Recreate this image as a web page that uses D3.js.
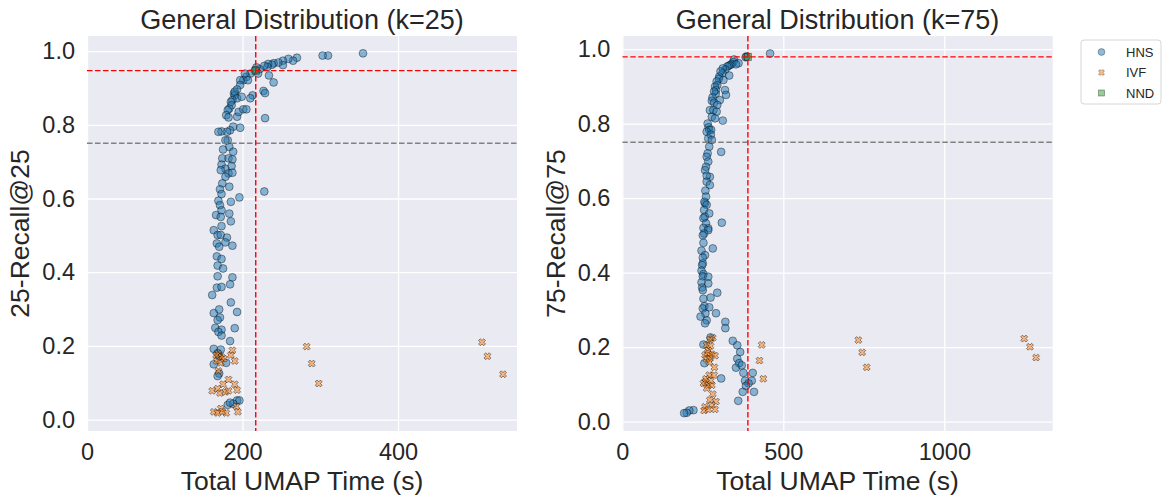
<!DOCTYPE html>
<html>
<head>
<meta charset="utf-8">
<script src="https://cdn.jsdelivr.net/npm/d3@7"></script>
<style>
html,body{margin:0;padding:0;background:#fff;}
svg{display:block;font-family:"Liberation Sans",Arial,Helvetica,sans-serif;}
</style>
</head>
<body>
<svg id="chart" width="1171" height="502"></svg>
<script>
// ---------- data ----------
const seriesNames = ["HNS", "IVF", "NND"];
const panelTitles = ["General Distribution (k=25)", "General Distribution (k=75)"];
const yLabels = ["25-Recall@25", "75-Recall@75"];
const xLabel = "Total UMAP Time (s)";
const xTicksLeft = [0, 200, 400];
const xTicksRight = [0, 500, 1000];
const yTicks = [0.0, 0.2, 0.4, 0.6, 0.8, 1.0];
const recallThreshold = 0.75;

// [time, recall]
const hns25 = [[355,0.994],[310,0.988],[303,0.988],[270,0.982],[265,0.974],[259,0.979],[252,0.974],[252,0.962],[246,0.969],[240,0.967],[238,0.963],[233,0.965],[232,0.957],[228,0.960],[222,0.951],[218,0.956],[220,0.939],[216,0.948],[210,0.939],[205,0.930],[203,0.939],[201,0.921],[207,0.921],[197,0.921],[197,0.908],[234,0.934],[240,0.915],[227,0.892],[229,0.886],[193,0.896],[189,0.885],[190,0.880],[190,0.890],[193,0.872],[199,0.876],[213,0.880],[210,0.872],[187,0.867],[185,0.862],[186,0.853],[183,0.844],[181,0.840],[179,0.826],[182,0.820],[193,0.822],[195,0.835],[201,0.842],[205,0.842],[229,0.818],[188,0.795],[184,0.785],[180,0.781],[173,0.782],[169,0.781],[197,0.792],[181,0.758],[178,0.758],[183,0.740],[175,0.733],[188,0.727],[174,0.709],[182,0.709],[187,0.706],[173,0.692],[178,0.681],[186,0.688],[172,0.677],[182,0.668],[187,0.670],[178,0.659],[183,0.632],[174,0.641],[171,0.625],[228,0.619],[173,0.612],[196,0.603],[169,0.594],[185,0.591],[171,0.582],[166,0.555],[173,0.568],[183,0.559],[172,0.550],[185,0.538],[173,0.525],[163,0.514],[168,0.501],[172,0.501],[180,0.494],[167,0.478],[170,0.469],[178,0.481],[187,0.472],[167,0.443],[173,0.436],[168,0.418],[175,0.410],[168,0.389],[187,0.386],[167,0.358],[173,0.360],[184,0.367],[161,0.338],[185,0.318],[170,0.299],[163,0.289],[171,0.277],[193,0.292],[168,0.270],[165,0.249],[173,0.244],[190,0.248],[169,0.238],[173,0.228],[184,0.213],[163,0.192],[172,0.190],[168,0.180],[170,0.172],[179,0.154],[163,0.150],[170,0.125],[168,0.118],[181,0.040],[193,0.052],[196,0.052],[188,0.043],[184,0.046]];
const ivf25 = [[187,0.188],[169,0.179],[173,0.170],[185,0.175],[190,0.159],[167,0.159],[172,0.154],[169,0.132],[182,0.109],[175,0.096],[190,0.096],[161,0.078],[168,0.084],[171,0.072],[178,0.075],[182,0.078],[193,0.080],[172,0.030],[163,0.021],[168,0.018],[179,0.018],[194,0.021],[192,0.036],[174,0.022],[166,0.175],[176,0.165],[282.5,0.198],[289,0.152],[298,0.098],[508,0.210],[515,0.172],[535,0.123]];
const nnd25 = [[217,0.947]];

const hns75 = [[459,0.988],[386,0.980],[383,0.978],[347,0.972],[345,0.965],[340,0.960],[361,0.962],[353,0.959],[335,0.957],[330,0.955],[326,0.953],[320,0.945],[312,0.948],[311,0.935],[305,0.940],[301,0.926],[300,0.920],[332,0.929],[314,0.917],[293,0.913],[295,0.903],[288,0.899],[291,0.890],[290,0.880],[285,0.886],[280,0.870],[319,0.890],[322,0.877],[303,0.863],[278,0.861],[285,0.856],[295,0.850],[272,0.836],[283,0.836],[293,0.832],[312,0.808],[278,0.818],[288,0.814],[265,0.800],[268,0.790],[270,0.783],[276,0.783],[262,0.778],[275,0.770],[267,0.760],[278,0.756],[270,0.738],[307,0.724],[265,0.720],[262,0.711],[267,0.698],[260,0.684],[272,0.657],[257,0.675],[262,0.660],[262,0.644],[272,0.635],[258,0.620],[260,0.604],[257,0.586],[255,0.590],[262,0.582],[254,0.568],[270,0.559],[256,0.550],[252,0.546],[260,0.532],[309,0.534],[267,0.519],[252,0.520],[267,0.514],[254,0.505],[250,0.500],[252,0.480],[281,0.465],[246,0.459],[257,0.447],[250,0.440],[250,0.425],[248,0.420],[246,0.405],[252,0.396],[250,0.390],[267,0.389],[246,0.374],[267,0.371],[248,0.360],[250,0.353],[295,0.346],[252,0.330],[274,0.333],[255,0.310],[250,0.304],[270,0.307],[258,0.290],[291,0.291],[243,0.282],[262,0.272],[257,0.264],[320,0.268],[320,0.251],[274,0.226],[343,0.217],[357,0.205],[252,0.207],[366,0.187],[357,0.169],[363,0.157],[255,0.157],[353,0.145],[371,0.151],[376,0.131],[405,0.131],[307,0.116],[381,0.110],[402,0.110],[392,0.103],[384,0.096],[374,0.080],[409,0.080],[360,0.056],[221,0.031],[208,0.030],[200,0.024],[192,0.023]];
const ivf75 = [[281,0.225],[272,0.220],[262,0.206],[274,0.203],[267,0.191],[257,0.179],[278,0.181],[288,0.177],[272,0.170],[262,0.168],[286,0.146],[270,0.125],[285,0.125],[257,0.107],[267,0.098],[278,0.098],[252,0.103],[262,0.090],[281,0.074],[272,0.058],[291,0.054],[257,0.040],[278,0.045],[288,0.033],[254,0.030],[267,0.033],[265,0.185],[270,0.160],[260,0.115],[275,0.110],[433,0.206],[426,0.164],[438,0.115],[733,0.219],[745,0.186],[759,0.146],[1248,0.223],[1266,0.201],[1285,0.172]];
const nnd75 = [[390,0.979]];

// ---------- styling ----------
const colors = {HNS: "#1f77b4", IVF: "#ff7f0e", NND: "#2ca02c"};
const FONT_TICK = 23.5, FONT_LABEL = 26.5, FONT_TITLE = 27;

const svg = d3.select("#chart");

function drawPanel(opt) {
  const {left, right, top, bottom, xDomain, yDomain, xTicks, hns, ivf, nnd, title, ylab, ylabX} = opt;
  const x = d3.scaleLinear().domain(xDomain).range([left, right]);
  const y = d3.scaleLinear().domain(yDomain).range([bottom, top]);
  const g = svg.append("g");

  g.append("rect").attr("x", left).attr("y", top)
    .attr("width", right - left).attr("height", bottom - top).attr("fill", "#EAEAF2");

  const gx = g.append("g").attr("transform", `translate(0,${bottom})`)
    .call(d3.axisBottom(x).tickValues(xTicks).tickSize(-(bottom - top)).tickPadding(12).tickFormat(d3.format("d")));
  const gy = g.append("g").attr("transform", `translate(${left},0)`)
    .call(d3.axisLeft(y).tickValues(yTicks).tickSize(-(right - left)).tickPadding(12).tickFormat(d3.format(".1f")));
  [gx, gy].forEach(a => {
    a.select(".domain").remove();
    a.selectAll(".tick line").attr("stroke", "#fff").attr("stroke-width", 1.3);
    a.selectAll(".tick text").attr("fill", "#262626").attr("font-size", FONT_TICK)
      .attr("font-family", "Liberation Sans, Arial, sans-serif");
  });
  gx.selectAll(".tick text").attr("dy", "0.71em");

  const clip = "clip" + Math.round(left);
  g.append("clipPath").attr("id", clip).append("rect")
    .attr("x", left).attr("y", top).attr("width", right - left).attr("height", bottom - top);
  const pg = g.append("g").attr("clip-path", `url(#${clip})`);

  pg.selectAll("circle.hns").data(hns).join("circle").attr("class", "hns")
    .attr("cx", d => x(d[0])).attr("cy", d => y(d[1])).attr("r", 3.9)
    .attr("fill", colors.HNS).attr("fill-opacity", 0.5)
    .attr("stroke", "#000").attr("stroke-opacity", 0.5).attr("stroke-width", 0.8);

  const xSym = d3.symbol(d3.symbolCross, 30);
  pg.selectAll("path.ivf").data(ivf).join("path").attr("class", "ivf")
    .attr("d", xSym)
    .attr("transform", d => `translate(${x(d[0])},${y(d[1])}) rotate(45)`)
    .attr("fill", colors.IVF).attr("fill-opacity", 0.5)
    .attr("stroke", "#000").attr("stroke-opacity", 0.5).attr("stroke-width", 0.8);

  pg.selectAll("rect.nnd").data(nnd).join("rect").attr("class", "nnd")
    .attr("x", d => x(d[0]) - 3.5).attr("y", d => y(d[1]) - 3.5).attr("width", 7).attr("height", 7)
    .attr("fill", colors.NND).attr("fill-opacity", 0.5)
    .attr("stroke", "#000").attr("stroke-opacity", 0.5).attr("stroke-width", 0.8);

  pg.append("line").attr("x1", left).attr("x2", right)
    .attr("y1", y(recallThreshold)).attr("y2", y(recallThreshold))
    .attr("stroke", "#808080").attr("stroke-width", 1.4).attr("stroke-dasharray", "5.5,2.5");
  pg.append("line").attr("x1", left).attr("x2", right)
    .attr("y1", y(nnd[0][1])).attr("y2", y(nnd[0][1]))
    .attr("stroke", "#ff0000").attr("stroke-width", 1.4).attr("stroke-dasharray", "5.5,2.5");
  pg.append("line").attr("y1", top).attr("y2", bottom)
    .attr("x1", x(nnd[0][0])).attr("x2", x(nnd[0][0]))
    .attr("stroke", "#ff0000").attr("stroke-width", 1.4).attr("stroke-dasharray", "5.5,2.5");

  g.append("text").attr("x", (left + right) / 2).attr("y", 29).attr("text-anchor", "middle")
    .attr("font-size", FONT_TITLE).attr("fill", "#262626").text(title);
  g.append("text").attr("x", (left + right) / 2).attr("y", 490).attr("text-anchor", "middle")
    .attr("font-size", FONT_LABEL).attr("fill", "#262626").text(xLabel);
  g.append("text").attr("transform", `translate(${ylabX},${(top + bottom) / 2}) rotate(-90)`)
    .attr("text-anchor", "middle").attr("font-size", FONT_LABEL).attr("fill", "#262626").text(ylab);
}

drawPanel({left: 87, right: 517, top: 36, bottom: 431, xDomain: [0, 553], yDomain: [-0.031, 1.041],
  xTicks: xTicksLeft, hns: hns25, ivf: ivf25, nnd: nnd25, title: panelTitles[0], ylab: yLabels[0], ylabX: 29});
drawPanel({left: 622.3, right: 1052.7, top: 36, bottom: 431, xDomain: [0, 1336.6], yDomain: [-0.025, 1.035],
  xTicks: xTicksRight, hns: hns75, ivf: ivf75, nnd: nnd75, title: panelTitles[1], ylab: yLabels[1], ylabX: 565});

// legend
const lg = svg.append("g").attr("transform", "translate(1081,40)");
lg.append("rect").attr("x", 0).attr("y", 0).attr("width", 80).attr("height", 64).attr("rx", 3)
  .attr("fill", "#fff").attr("fill-opacity", 0.8).attr("stroke", "#cccccc").attr("stroke-width", 0.8);
const items = lg.selectAll("g.item").data(seriesNames).join("g").attr("class", "item")
  .attr("transform", (d, i) => `translate(0,${12 + i * 20.5})`);
items.each(function(d) {
  const it = d3.select(this);
  if (d === "HNS") {
    it.append("circle").attr("cx", 20.5).attr("cy", 0).attr("r", 3.4)
      .attr("fill", colors.HNS).attr("fill-opacity", 0.5).attr("stroke", "#000").attr("stroke-opacity", 0.5).attr("stroke-width", 0.6);
  } else if (d === "IVF") {
    it.append("path").attr("d", d3.symbol(d3.symbolCross, 22)).attr("transform", "translate(20.5,0) rotate(45)")
      .attr("fill", colors.IVF).attr("fill-opacity", 0.5).attr("stroke", "#000").attr("stroke-opacity", 0.5).attr("stroke-width", 0.6);
  } else {
    it.append("rect").attr("x", 17.5).attr("y", -3).attr("width", 6).attr("height", 6)
      .attr("fill", colors.NND).attr("fill-opacity", 0.5).attr("stroke", "#000").attr("stroke-opacity", 0.5).attr("stroke-width", 0.6);
  }
  it.append("text").attr("x", 45).attr("y", 0).attr("dy", "0.35em").attr("font-size", 13)
    .attr("fill", "#262626").text(d);
});
</script>
</body>
</html>
